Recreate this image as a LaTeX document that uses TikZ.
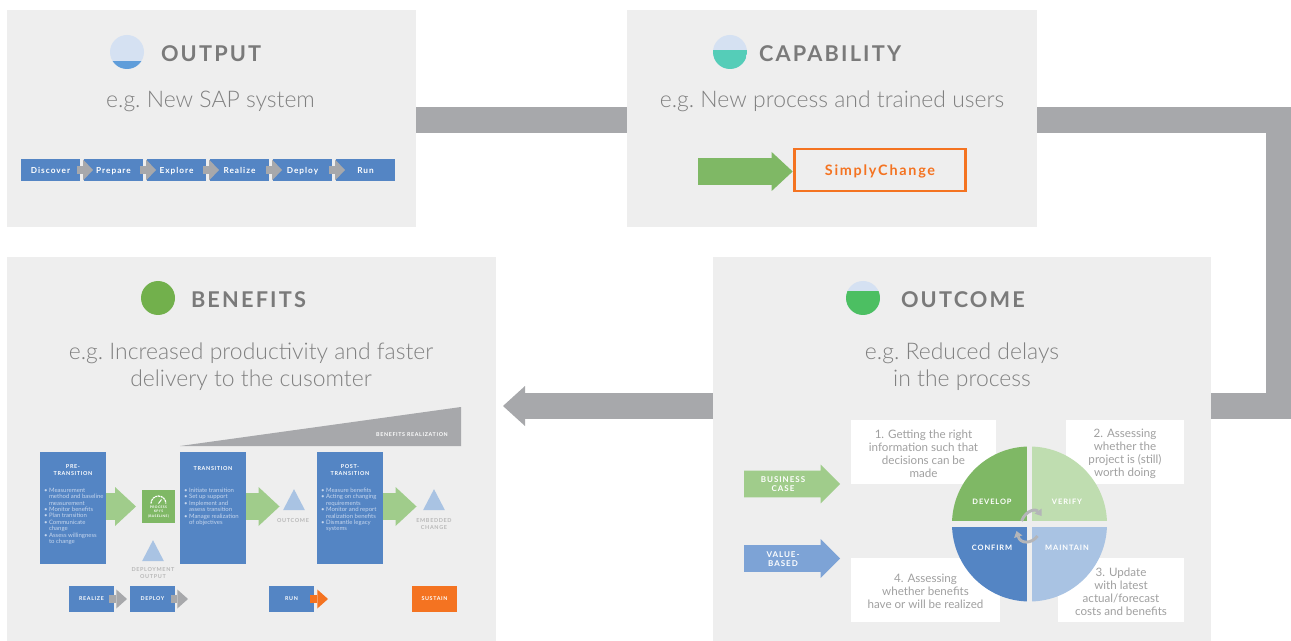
\documentclass[tikz,border=0pt]{standalone}
\usepackage{fontspec}
\usepackage{tikz}
\usetikzlibrary{arrows.meta}
\usetikzlibrary{positioning}
\usetikzlibrary{shapes.arrows}
\usetikzlibrary{shapes.geometric}
\setmainfont{Lato}
\newfontfamily\lightfont{Lato Light}
\newfontfamily\headfont[LetterSpace=10]{Lato}
\newfontfamily\tagfont[LetterSpace=12]{Lato}
\newcommand{\notepad}{\rule{0pt}{8.5pt}}
\definecolor{panelgrey}{HTML}{EEEEEE}
\definecolor{bargrey}{HTML}{A7A8AB}
\definecolor{headgrey}{HTML}{7A7A7A}
\definecolor{subgrey}{HTML}{808080}
\definecolor{notegrey}{HTML}{A0A0A0}
\definecolor{taggrey}{HTML}{B8B8B8}
\definecolor{sapblue}{HTML}{5485C4}
\definecolor{paleblue}{HTML}{A9C3E3}
\definecolor{midblue}{HTML}{7DA3D6}
\definecolor{skyblue}{HTML}{D5E1F2}
\definecolor{waterblue}{HTML}{5F9DDA}
\definecolor{teal}{HTML}{55CDB8}
\definecolor{leaf}{HTML}{7FB865}
\definecolor{paleleaf}{HTML}{A0CC8B}
\definecolor{mint}{HTML}{BFDDB0}
\definecolor{bright}{HTML}{4CBF62}
\definecolor{moss}{HTML}{72B04C}
\definecolor{carrot}{HTML}{F47321}
\definecolor{bodyblue}{HTML}{C5D6EE}

\begin{document}
\begin{tikzpicture}[x=.75pt,y=-.75pt,outer sep=0pt,
  panel/.style={rectangle,fill=panelgrey,inner sep=0pt},
  heading/.style={font=\headfont\fontsize{16.3}{19}\bfseries,text=headgrey,inner sep=0pt},
  example/.style={font=\lightfont\frenchspacing\fontsize{17.2}{20.25}\selectfont,text=subgrey,align=center,inner sep=0pt},
  icon/.style={circle,fill=skyblue,inner sep=0pt,minimum size=25.5pt},
  stepbox/.style={rectangle,fill=sapblue,text=white,inner sep=0pt,minimum width=44.25pt,minimum height=16.5pt,text height=7pt,text depth=1pt,font=\tagfont\fontsize{6.2}{7}\bfseries},
  phase/.style={rectangle,fill=sapblue,inner sep=0pt,minimum width=49.5pt,minimum height=84pt},
  phasetitle/.style={text=white,align=center,inner sep=0pt,font=\tagfont\fontsize{4.1}{4.6}\bfseries},
  phasebody/.style={anchor=north west,text=bodyblue,align=left,inner sep=0pt,font=\fontsize{4.5}{4.8}\selectfont},
  tagbox/.style={rectangle,text=white,inner sep=0pt,minimum width=33.75pt,minimum height=19.5pt,font=\tagfont\fontsize{4}{5}\bfseries},
  taglabel/.style={text=taggrey,align=center,inner sep=0pt,font=\tagfont\fontsize{4.1}{4.6}\bfseries},
  level/.style={isosceles triangle,shape border rotate=90,fill=paleblue,inner sep=0pt,isosceles triangle apex angle=55,minimum height=15.75pt},
  notebox/.style={rectangle,fill=white,text=notegrey,align=center,inner sep=0pt,font=\fontsize{8.7}{9.75}\selectfont},
  slice/.style={text=white,inner sep=0pt,font=\tagfont\fontsize{5.6}{7}\bfseries},
  bar/.style={draw=bargrey,line width=19.5pt},
  greyflow/.style={draw=bargrey,line width=6pt,-{Triangle[width=15.75pt,length=7.5pt,line width=0pt]}},
  smallflow/.style={line width=6pt,-{Triangle[width=14.25pt,length=8pt,line width=0pt]}},
  greenflow/.style={draw=paleleaf,line width=20.25pt,-{Triangle[width=29.25pt,length=15.75pt,line width=0pt]}},
  spin/.style={draw=bargrey!85,line width=2.2pt,-{Triangle[width=6.5pt,length=4.5pt,line width=0pt]}},
  labelarrow/.style={single arrow,single arrow head extend=4.5pt,single arrow tip angle=90,inner ysep=9.75pt,inner xsep=0pt,minimum height=72pt,minimum width=29pt,anchor=tail},
  arrowlabel/.style={text=white,align=center,inner sep=0pt,font=\tagfont\fontsize{6}{6.8}\bfseries}]

  % panels
  \useasboundingbox (0,0) rectangle (1291,641);
  \node[panel,minimum width=306.75pt,minimum height=162.75pt] (output) at (211.5,118.5) {};
  \node[panel,minimum width=307.5pt,minimum height=162.75pt] (capability) at (832,118.5) {};
  \node[panel,minimum width=366.75pt,minimum height=288pt] (benefits) at (251.5,449) {};
  \node[panel,minimum width=373.5pt,minimum height=288pt] (outcome) at (962,449) {};

  % links between the panels
  \draw[bar] ([yshift=-1.5pt]output.east) -- ([yshift=-1.5pt]capability.west);
  \draw[bar] ([yshift=-1.5pt]capability.east) -- (1278.5,120.5) -- (1278.5,406) -- ([yshift=32.25pt]outcome.east);
  \draw[bar,-{Triangle[width=30pt,length=16.5pt,line width=0pt]},shorten >=5.25pt] ([yshift=32.25pt]outcome.west) -- (benefits.east |- 0,406);

  % headings
  \node[icon,path picture={\fill[waterblue] (path picture bounding box.south west) rectangle ([yshift=6pt]path picture bounding box.south east);}] (outputicon) at (127,52) {};
  \node[heading,anchor=west] (outputhead) at (161,53.5) {OUTPUT};
  \node[example] (outputeg) at (210.5,101) {e.g. New SAP system};
  \node[icon,path picture={\fill[teal] (path picture bounding box.south west) rectangle ([yshift=14.25pt]path picture bounding box.south east);}] (capicon) at (730,52) {};
  \node[heading,anchor=west] (caphead) at (759,53.5) {CAPABILITY};
  \node[example] (capeg) at (832,101) {e.g. New process and trained users};
  \node[icon,fill=moss] (benefitsicon) at (158,298) {};
  \node[heading,anchor=west] (benefitshead) at (191,300) {BENEFITS};
  \node[example] (benefitseg) at (251,366.5) {e.g. Increased productivity and faster\\delivery to the cusomter};
  \node[icon,path picture={\fill[bright] (path picture bounding box.south west) rectangle ([yshift=18pt]path picture bounding box.south east);}] (outcomeicon) at (863,298) {};
  \node[heading,anchor=west] (outcomehead) at (901,300) {OUTCOME};
  \node[example] (outcomeeg) at (962,366.5) {e.g. Reduced delays\\in the process};

  % output steps
  \node[stepbox] (discover) at (50.5,170) {Discover};
  \node[stepbox] (prepare) [right=3pt of discover] {Prepare};
  \node[stepbox] (explore) [right=3pt of prepare] {Explore};
  \node[stepbox] (realize) [right=3pt of explore] {Realize};
  \node[stepbox] (deploy) [right=3pt of realize] {Deploy};
  \node[stepbox] (run) [right=3pt of deploy] {Run};
  \foreach \from/\to in {discover/prepare,prepare/explore,explore/realize,realize/deploy,deploy/run}
    \draw[greyflow,shorten <=-2.25pt,shorten >=-6.75pt] (\from) -- (\to);

  % capability
  \coordinate (capstart) at (698,171.5);
  \node[rectangle,draw=carrot,line width=1.9pt,inner sep=0pt,minimum width=128pt,minimum height=31.5pt,text height=10pt,text depth=2pt,text=carrot,font=\tagfont\fontsize{10.8}{12}\bfseries] (simply) at (880,170) {SimplyChange};
  \draw[greenflow,draw=leaf,shorten >=1.5pt] (capstart) -- (simply.west |- capstart);

  % benefits realization wedge
  \coordinate (wedgetip) at (180,446);
  \coordinate (wedgetop) at (461,407);
  \coordinate (wedgefoot) at (461,446);
  \fill[bargrey] (wedgetip) -- (wedgetop) -- (wedgefoot) -- cycle;
  \node[tagbox,minimum width=0pt,minimum height=0pt] (wedgelabel) at (412,435) {BENEFITS REALIZATION};

  % phases
  \node[phase] (pre) at (73,508) {};
  \node[phase] (trans) at (213,508) {};
  \node[phase] (post) at (350,508) {};
  \node[phasetitle] (pretitle) at (73,470) {PRE-\\TRANSITION};
  \node[phasetitle] (transtitle) at (213,469) {TRANSITION};
  \node[phasetitle] (posttitle) at (350,470) {POST-\\TRANSITION};
  \node[phasebody] (prebody) at (44,488) {• Measurement\\\phantom{• }method and baseline\\\phantom{• }measurement\\• Monitor benefits\\• Plan transition\\• Communicate\\\phantom{• }change\\• Assess willingness\\\phantom{• }to change};
  \node[phasebody] (transbody) at (184,488) {• Initiate transition\\• Set up support\\• Implement and\\\phantom{• }assess transition\\• Manage realization\\\phantom{• }of objectives};
  \node[phasebody] (postbody) at (321,488) {• Measure benefits\\• Acting on changing\\\phantom{• }requirements\\• Monitor and report\\\phantom{• }realization benefits\\• Dismantle legacy\\\phantom{• }systems};

  % kpi card
  \node[rectangle,fill=leaf,inner sep=0pt,minimum width=24.75pt,minimum height=24.75pt] (kpi) at (158.5,506.5) {};
  \node[text=white,align=center,inner sep=0pt,font=\tagfont\fontsize{2.5}{3.6}\bfseries] (kpitext) at (158.5,512) {PROCESS\\KPI'S\\(BASELINE)};
  \coordinate (gauge) at (158.5,503.5);
  \draw[white,line width=.9pt,dash pattern=on 1.6pt off .5pt] ([shift={(-7.5,0)}]gauge) arc[start angle=180,end angle=0,radius=5.6pt];
  \draw[white,line width=.7pt] (gauge) -- ([shift={(3,-4)}]gauge);

  % targets
  \node[level] (deploymentout) at (153,554.5) {};
  \node[taglabel] (deploymentlabel) at (153,573) {DEPLOYMENT\\OUTPUT};
  \node[level] (outcometri) at (294,503.5) {};
  \node[taglabel] (outcomelabel) at (293,520.5) {OUTCOME};
  \node[level] (embedded) at (434,503.5) {};
  \node[taglabel] (embeddedlabel) at (434,524) {EMBEDDED\\CHANGE};
  \draw[greenflow,shorten >=4.5pt] (pre.east |- kpi) -- (kpi.west);
  \draw[greenflow,shorten >=5.25pt] (trans.east |- kpi) -- (outcometri.west |- kpi);
  \draw[greenflow,shorten >=7.5pt] (post.east |- kpi) -- (embedded.west |- kpi);

  % bottom tags
  \node[tagbox,fill=sapblue] (realizetag) at (91.5,599) {REALIZE};
  \node[tagbox,fill=sapblue] (deploytag) at (152.5,599) {DEPLOY};
  \node[tagbox,fill=sapblue] (runtag) at (291.5,599) {RUN};
  \node[tagbox,fill=carrot] (sustaintag) at (434.5,599) {SUSTAIN};
  \coordinate (deployend) at (188,599);
  \coordinate (runend) at (328,599);
  \draw[smallflow,draw=bargrey,shorten <=-3.75pt,shorten >=2.25pt] (realizetag) -- (deploytag);
  \draw[smallflow,draw=bargrey,shorten <=-3pt] (deploytag) -- (deployend);
  \draw[smallflow,draw=carrot,shorten <=-3pt] (runtag) -- (runend);

  % outcome inputs
  \node[labelarrow,fill=paleleaf] (bizcase) at (744,484) {};
  \node[arrowlabel] (bizcaselabel) at (783,484.5) {BUSINESS\\CASE};
  \node[labelarrow,fill=midblue] (valuebased) at (744,558.5) {};
  \node[arrowlabel] (valuelabel) at (783,559) {VALUE-\\BASED};

  % notes
  \node[notebox,minimum width=108.75pt,minimum height=48pt] (note1) at (923.5,452) {\notepad 1. Getting the right\\information such that\\decisions can be\\made};
  \node[notebox,minimum width=88.5pt,minimum height=48pt] (note2) at (1125,452) {\notepad 2. Assessing\\whether the\\project is (still)\\worth doing};
  \node[notebox,minimum width=94.5pt,minimum height=48pt] (note3) at (1121,590) {\notepad 3. Update\\with latest\\actual/forecast\\costs and benefits};
  \node[notebox,minimum width=111.75pt,minimum height=48pt] (note4) at (925.5,590) {\notepad 4. Assessing\\whether benefits\\have or will be realized};

  % cycle
  \coordinate (hub) at (1029.5,524);
  \foreach \start/\tone in {90/mint,180/leaf,270/sapblue,360/paleblue}
    \fill[\tone] (hub) -- ([shift={(\start:58.125pt)}]hub) arc[start angle=\start,end angle=\start-90,radius=58.125pt] -- cycle;
  \draw[panelgrey,line width=4.2pt] ([shift={(-80,0)}]hub) -- ([shift={(80,0)}]hub);
  \draw[panelgrey,line width=4.2pt] ([shift={(0,-80)}]hub) -- ([shift={(0,80)}]hub);
  \node[slice] (develop) at (992,501.5) {DEVELOP};
  \node[slice] (verify) at (1067,501.5) {VERIFY};
  \node[slice] (confirm) at (992,547.5) {CONFIRM};
  \node[slice] (maintain) at (1067,547.5) {MAINTAIN};
  \draw[spin] ([shift={(-8,-3)}]hub) .. controls ([shift={(-3,-15)}]hub) and ([shift={(7,-15)}]hub) .. ([shift={(12,-8)}]hub);
  \draw[spin] ([shift={(8,12)}]hub) .. controls ([shift={(2,20)}]hub) and ([shift={(-9,20)}]hub) .. ([shift={(-13,7)}]hub);
\end{tikzpicture}
\end{document}
